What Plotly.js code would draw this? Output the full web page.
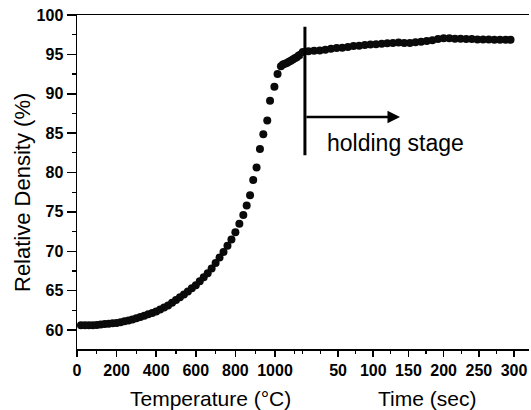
<!DOCTYPE html>
<html>
<head>
<meta charset="utf-8">
<script src="https://cdn.plot.ly/plotly-3.0.1.min.js"></script>
<style>html,body{margin:0;padding:0;background:#fff;} #chart{width:531px;height:410px;}</style>
</head>
<body>
<div id="chart"></div>
<script>
// Heating stage: temperature (°C) vs relative density (%)
const heatTemp = [20,40,60,80,100,120,140,160,180,200,220,240,260,280,300,320,340,360,380,400,
  420,440,460,480,500,520,540,560,580,600,620,640,660,680,700,720,740,760,780,800,
  820,840,857,874,890,907,924,941,961,975,997,1013,1030,1040,1050,1060,1070,1080,1090,1100,
  1110,1120,1130,1140,1150];
const heatDensity = [60.6,60.6,60.6,60.6,60.65,60.7,60.75,60.8,60.85,60.9,61.0,61.1,61.2,61.35,61.5,61.65,61.8,62.0,62.15,62.35,
  62.6,62.85,63.1,63.45,63.8,64.15,64.5,64.9,65.3,65.7,66.2,66.7,67.2,67.8,68.5,69.2,69.9,70.7,71.5,72.4,
  73.5,74.6,75.8,77.1,79.05,80.65,83.0,84.85,86.6,89.1,90.9,92.5,93.5,93.7,93.8,93.9,94.05,94.2,94.35,94.5,
  94.65,94.85,95.0,95.1,95.2];

// Holding stage: time (sec) vs relative density (%)
const holdTime = [0,8,16,24,32,40,48,56,64,72,80,88,96,104,112,120,128,136,144,152,
  160,168,176,184,192,200,208,216,224,232,240,248,256,264,272,280,288,295];
const holdDensity = [95.3,95.4,95.45,95.5,95.6,95.7,95.8,95.85,95.95,96.05,96.1,96.2,96.25,96.3,96.35,96.4,96.45,96.5,96.45,96.45,
  96.55,96.6,96.7,96.8,96.95,97.05,97.05,97.0,97.0,96.95,96.95,96.9,96.9,96.9,96.85,96.85,96.85,96.85];

const tempTicks = [0,200,400,600,800,1000];
const timeTicks = [50,100,150,200,250,300];
const yTicks = [60,65,70,75,80,85,90,95,100];

const FONT = "Liberation Sans, Arial, sans-serif";
const tickFont = {family: FONT, size: 16, color: '#000'};
const bold = v => '<b>' + v + '</b>';

const marker = {size: 8, color: '#0a0a0a'};
const traces = [
  {x: heatTemp, y: heatDensity, xaxis: 'x', yaxis: 'y', type: 'scatter', mode: 'markers', marker: marker, cliponaxis: false, hoverinfo: 'skip'},
  {x: holdTime, y: holdDensity, xaxis: 'x2', yaxis: 'y', type: 'scatter', mode: 'markers', marker: marker, cliponaxis: false, hoverinfo: 'skip'}
];

const axisCommon = {
  showline: true, linecolor: '#000', linewidth: 1.5, showgrid: false, zeroline: false,
  ticks: 'outside', tickcolor: '#000', tickwidth: 1.5, tickfont: tickFont
};

const layout = {
  width: 531, height: 410,
  margin: {l: 77, r: 2, t: 15, b: 61},
  paper_bgcolor: '#fff', plot_bgcolor: '#fff',
  showlegend: false,
  xaxis: Object.assign({}, axisCommon, {
    domain: [0, 0.5044], range: [0, 1151.5], anchor: 'y', mirror: true,
    tickmode: 'array', tickvals: tempTicks, ticktext: tempTicks.map(bold), ticklen: 6,
    minor: {dtick: 100, tick0: 0, ticks: 'outside', ticklen: 3, tickcolor: '#000', tickwidth: 1.2}
  }),
  xaxis2: Object.assign({}, axisCommon, {
    domain: [0.4996, 1], range: [0, 321.2], anchor: 'y', mirror: true,
    tickmode: 'array', tickvals: timeTicks, ticktext: timeTicks.map(bold), ticklen: 6,
    minor: {dtick: 25, tick0: 0, ticks: 'outside', ticklen: 3, tickcolor: '#000', tickwidth: 1.2}
  }),
  yaxis: Object.assign({}, axisCommon, {
    domain: [0, 1], range: [57.59, 100], anchor: 'x',
    tickmode: 'array', tickvals: yTicks, ticktext: yTicks.map(bold), ticklen: 9,
    minor: {dtick: 2.5, tick0: 0, ticks: 'outside', ticklen: 4, tickcolor: '#000', tickwidth: 1.2}
  }),
  shapes: [
    {type: 'line', xref: 'x2', yref: 'y', x0: 3, x1: 3, y0: 82.2, y1: 98.5, line: {color: '#000', width: 3}}
  ],
  annotations: [
    {xref: 'x2', yref: 'y', x: 138, y: 87.05, ax: 3, ay: 87.05, axref: 'x2', ayref: 'y',
     showarrow: true, arrowhead: 2, arrowsize: 1, arrowwidth: 2.5, arrowcolor: '#000', text: ''},
    {xref: 'x2', yref: 'y', x: 31.5, y: 83.8, xanchor: 'left', yanchor: 'middle', showarrow: false,
     text: 'holding stage', font: {family: FONT, size: 23, color: '#000'}},
    {xref: 'paper', yref: 'paper', x: -0.1217, y: 0.47, xanchor: 'center', yanchor: 'middle', textangle: -90, showarrow: false,
     text: 'Relative Density (%)', font: {family: FONT, size: 22, color: '#000'}},
    {xref: 'x', yref: 'paper', x: 672, y: 0, yshift: -49, xanchor: 'center', yanchor: 'middle', showarrow: false,
     text: 'Temperature (°C)', font: {family: FONT, size: 21, color: '#000'}},
    {xref: 'x2', yref: 'paper', x: 176, y: 0, yshift: -49, xanchor: 'center', yanchor: 'middle', showarrow: false,
     text: 'Time (sec)', font: {family: FONT, size: 21, color: '#000'}}
  ]
};

Plotly.newPlot('chart', traces, layout, {staticPlot: true, displayModeBar: false});
</script>
</body>
</html>
